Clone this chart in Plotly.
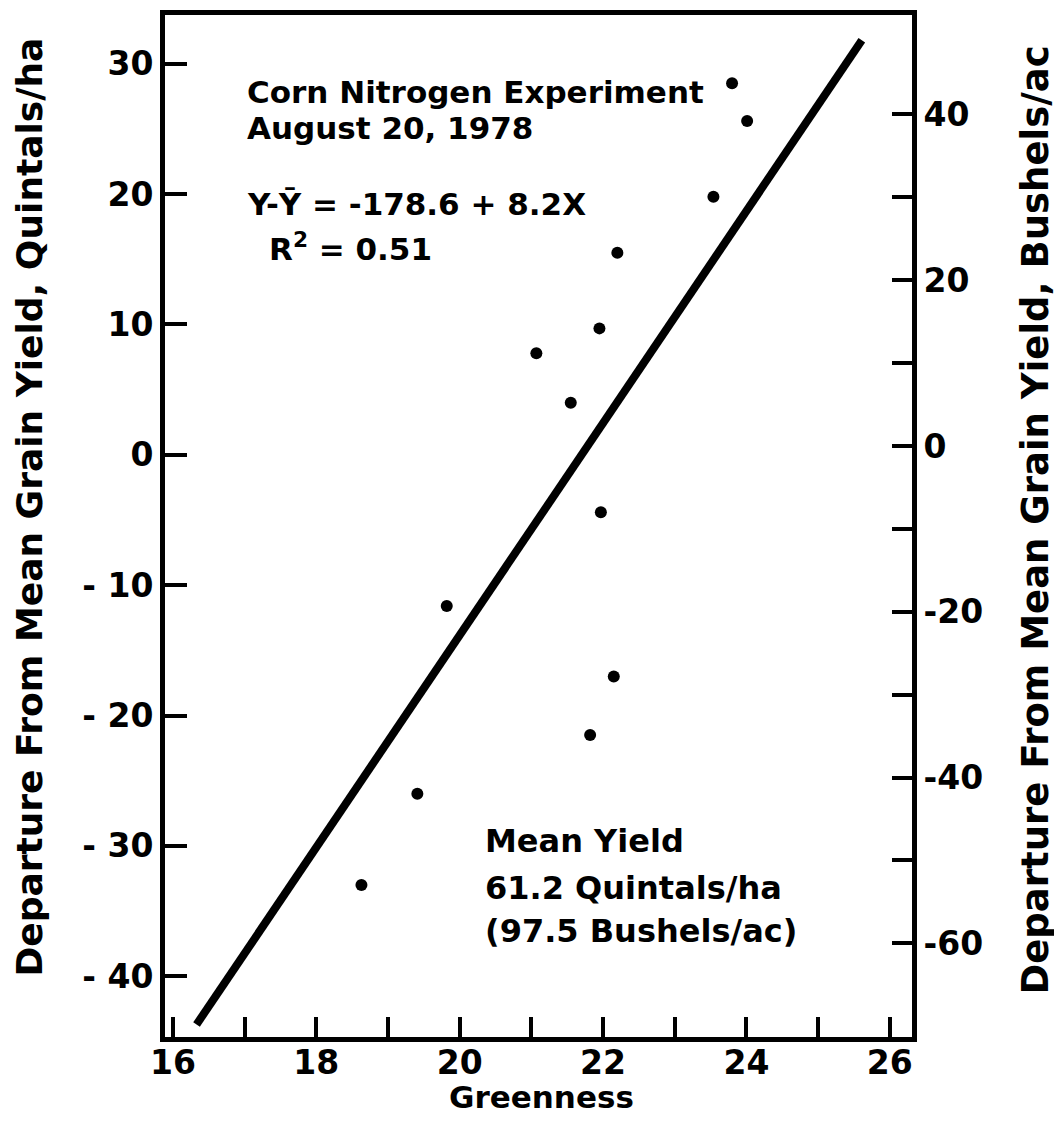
import plotly.graph_objects as go

# ---- data ----
greenness = [23.80, 24.01, 23.54, 22.20, 21.95, 21.07, 21.55, 21.97, 19.82, 22.15, 21.82, 19.41, 18.63]
departure_q = [28.5, 25.6, 19.8, 15.5, 9.7, 7.8, 4.0, -4.4, -11.6, -17.0, -21.5, -26.0, -33.0]

fit_x = [16.33, 25.61]
fit_y = [-43.7, 31.8]

x_tickvals = [16, 18, 20, 22, 24, 26]
x_ticktext = ["16", "18", "20", "22", "24", "26"]
x_minorvals = [17, 19, 21, 23, 25]
yl_tickvals = [30, 20, 10, 0, -10, -20, -30, -40]
yl_ticktext = ["30", "20", "10", "0", "- 10", "- 20", "- 30", "- 40"]
yr_tickvals = [40, 20, 0, -20, -40, -60]
yr_ticktext = ["40", "20", "0", "-20", "-40", "-60"]
yr_minorvals = [30, 10, -10, -30, -50]

FONT = "DejaVu Sans"
OFF = 8  # page body margin
W, H = 1062 - OFF, 1128 - OFF
# plot area in reference-image pixels
L, R, T, B = 165, 912, 10, 1037


def xp(px):
    return (px - L) / (R - L)


def yp(py):
    return (B - py) / (B - T)


fig = go.Figure()
fig.add_trace(go.Scatter(x=fit_x, y=fit_y, mode="lines",
                         line=dict(color="black", width=8), showlegend=False))
fig.add_trace(go.Scatter(x=greenness, y=departure_q, mode="markers",
                         marker=dict(color="black", size=12), showlegend=False))
# invisible trace to activate right axis
fig.add_trace(go.Scatter(x=[20], y=[0], yaxis="y2", mode="markers",
                         marker=dict(opacity=0), showlegend=False, hoverinfo="skip"))

tickfont = dict(family=FONT, size=33, color="black", weight="bold")

fig.update_layout(
    width=W, height=H,
    margin=dict(l=L - OFF, r=W - (R - OFF), t=T - OFF, b=H - (B - OFF)),
    paper_bgcolor="white", plot_bgcolor="white",
    xaxis=dict(range=[15.89, 26.31], tickvals=x_tickvals, ticktext=x_ticktext,
               ticks="inside", ticklen=20, tickwidth=4, tickcolor="black",
               minor=dict(ticks="inside", ticklen=20, tickwidth=4, tickcolor="black",
                          tickmode="array", tickvals=x_minorvals, showgrid=False),
               ticklabelstandoff=-8,
               showline=True, linewidth=5, linecolor="black", mirror=True,
               showgrid=False, zeroline=False, tickfont=tickfont),
    yaxis=dict(range=[-44.66, 33.74], tickvals=yl_tickvals, ticktext=yl_ticktext,
               ticks="inside", ticklen=22, tickwidth=4, tickcolor="black",
               showline=True, linewidth=5, linecolor="black", mirror=True,
               showgrid=False, zeroline=False, tickfont=tickfont),
    yaxis2=dict(range=[-71.3, 52.0], tickvals=yr_tickvals, ticktext=yr_ticktext,
                overlaying="y", side="right",
                ticks="inside", ticklen=20, tickwidth=4, tickcolor="black",
                minor=dict(ticks="inside", ticklen=20, tickwidth=4, tickcolor="black",
                           tickmode="array", tickvals=yr_minorvals, showgrid=False),
                showline=True, linewidth=5, linecolor="black",
                showgrid=False, zeroline=False, tickfont=tickfont),
)

anns = [
    ("Corn Nitrogen Experiment", 245, 87, 31),
    ("August 20, 1978", 245, 124, 31),
    ("Y-Ȳ = -178.6 + 8.2X", 245, 200, 31),
    ("R<sup>2</sup> = 0.51", 267, 243, 31),
    ("Mean Yield", 483, 840, 32),
    ("61.2 Quintals/ha", 483, 887, 32),
    ("(97.5 Bushels/ac)", 483, 930, 32),
]
for text, px, py, size in anns:
    fig.add_annotation(text=text, xref="paper", yref="paper", x=xp(px), y=yp(py),
                       xanchor="left", yanchor="middle", showarrow=False,
                       font=dict(family=FONT, size=size, color="black", weight="bold"))

fig.add_annotation(text="Greenness", xref="paper", yref="paper", x=xp(541), y=yp(1097),
                   xanchor="center", yanchor="middle", showarrow=False,
                   font=dict(family=FONT, size=31, color="black", weight="bold"))
fig.add_annotation(text="Departure From Mean Grain Yield, Quintals/ha", xref="paper", yref="paper",
                   x=xp(30), y=yp(505), xanchor="center", yanchor="middle", textangle=-90,
                   showarrow=False, font=dict(family=FONT, size=36, color="black", weight="bold"))
fig.add_annotation(text="Departure From Mean Grain Yield, Bushels/ac", xref="paper", yref="paper",
                   x=xp(1036), y=yp(518), xanchor="center", yanchor="middle", textangle=-90,
                   showarrow=False, font=dict(family=FONT, size=37, color="black", weight="bold"))

fig.write_html("out.html")
